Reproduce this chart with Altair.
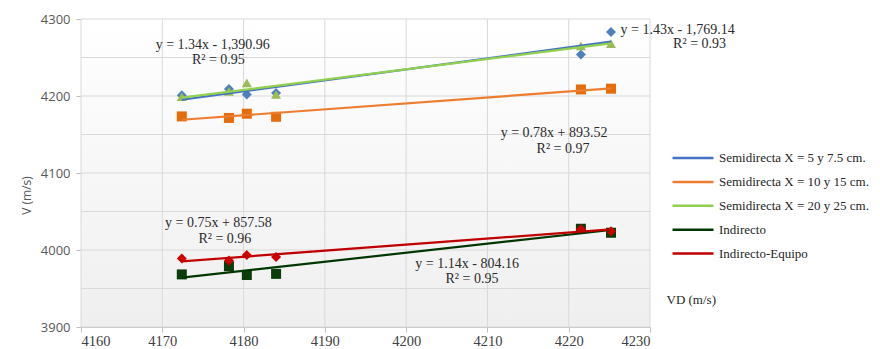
import altair as alt
import pandas as pd

# ---- data ----
vd = [4172.4, 4178.2, 4180.4, 4184.0, 4221.5, 4225.2]
semi_5_75 = [4201.0, 4209.0, 4202.0, 4204.0, 4254.0, 4283.0]
semi_10_15 = [4173.5, 4171.5, 4177.0, 4173.0, 4208.5, 4209.5]
semi_20_25 = [4199.0, 4206.0, 4217.0, 4202.0, 4265.0, 4268.0]
indirecto = [3968.3, 3979.0, 3967.5, 3969.0, 4027.6, 4022.4]
indirecto_equipo = [3989.0, 3986.5, 3993.5, 3991.0, 4027.0, 4024.5]

series_names = [
    "Semidirecta X = 5 y  7.5 cm.",
    "Semidirecta X = 10 y 15 cm.",
    "Semidirecta X = 20 y 25 cm.",
    "Indirecto",
    "Indirecto-Equipo",
]
series_values = [semi_5_75, semi_10_15, semi_20_25, indirecto, indirecto_equipo]

x_ticks = [4160, 4170, 4180, 4190, 4200, 4210, 4220, 4230]
y_ticks = [3900, 3950, 4000, 4050, 4100, 4150, 4200, 4250, 4300]

eq_texts = [
    "y = 1.34x - 1,390.96", "R² = 0.95",
    "y = 1.43x - 1,769.14", "R² = 0.93",
    "y = 0.78x + 893.52", "R² = 0.97",
    "y = 0.75x + 857.58", "R² = 0.96",
    "y = 1.14x - 804.16", "R² = 0.95",
]
eq_x = [4176.2, 4176.9, 4233.4, 4236.1, 4218.2, 4219.3, 4176.9, 4177.7, 4207.5, 4208.1]
eq_y = [4266.7, 4247.2, 4286.1, 4268.0, 4152.5, 4131.8, 4034.5, 4013.8, 3981.3, 3961.8]

# ---- styling ----
line_colors = ["#4472c4", "#ed7d31", "#92d050", "#003600", "#c00000"]
marker_colors = ["#4f81bd", "#e46c0a", "#9bbb59", "#0a3d0a", "#d00000"]
marker_shapes = ["diamond", "square", "triangle-up", "square", "diamond"]

rows = []
for name, vals in zip(series_names, series_values):
    for x, y in zip(vd, vals):
        rows.append({"series": name, "vd": x, "v": y})
df = pd.DataFrame(rows)
ann = pd.DataFrame({"x": eq_x, "y": eq_y, "text": eq_texts})

xscale = alt.Scale(domain=[4160, 4230], nice=False, zero=False)
yscale = alt.Scale(domain=[3900, 4300], nice=False, zero=False)

xaxis = alt.Axis(
    values=x_ticks, format="d", title="VD (m/s)",
    titleX=585, titleY=-28, titleAlign="left", titleBaseline="middle",
    titleFont="Liberation Serif", titleFontSize=13, titleFontWeight="normal", titleColor="#262626",
    labelFont="Liberation Serif", labelFontSize=14.5, labelColor="#404040", labelPadding=2,
    tickSize=5, tickColor="#bfbfbf", domainColor="#bfbfbf", grid=False,
)
yaxis = alt.Axis(
    values=y_ticks, format="d", title="V (m/s)",
    titleX=-55, titleY=176, titleAngle=-90, titleAlign="center", titleBaseline="middle",
    titleFont="Open Sans", titleFontSize=12, titleFontWeight="normal", titleColor="#595959",
    labelFont="Open Sans", labelFontSize=13, labelColor="#595959", labelPadding=6,
    tickSize=5, tickColor="#bfbfbf", domainColor="#bfbfbf", grid=False,
)

bg = alt.Chart(pd.DataFrame({"a": [0]})).mark_rect(
    fill=alt.Gradient(
        gradient="linear", x1=0, y1=0, x2=0, y2=1,
        stops=[alt.GradientStop(offset=0, color="#ffffff"),
               alt.GradientStop(offset=1, color="#efefef")],
    )
).encode(x=alt.value(0), x2=alt.value("width"), y=alt.value(0), y2=alt.value("height"))

xgrid = alt.Chart(pd.DataFrame({"t": x_ticks})).mark_rule(color="#d9d9d9", strokeWidth=1).encode(
    x=alt.X("t:Q", scale=xscale, axis=xaxis)
)
ygrid = alt.Chart(pd.DataFrame({"t": y_ticks})).mark_rule(color="#d9d9d9", strokeWidth=1).encode(
    y=alt.Y("t:Q", scale=yscale, axis=yaxis)
)

base = alt.Chart(df)

points = base.mark_point(filled=True, size=100, opacity=1).encode(
    x=alt.X("vd:Q", scale=xscale, axis=xaxis),
    y=alt.Y("v:Q", scale=yscale, axis=yaxis),
    color=alt.Color("series:N", scale=alt.Scale(domain=series_names, range=marker_colors), legend=None),
    shape=alt.Shape("series:N", scale=alt.Scale(domain=series_names, range=marker_shapes), legend=None),
)

lines = base.transform_regression(
    "vd", "v", groupby=["series"], method="linear"
).mark_line(strokeWidth=2.2).encode(
    x=alt.X("vd:Q", scale=xscale),
    y=alt.Y("v:Q", scale=yscale),
    color=alt.Color(
        "series:N",
        scale=alt.Scale(domain=series_names, range=line_colors),
        legend=alt.Legend(
            title=None, orient="none", legendX=590, legendY=131,
            symbolType="stroke", symbolSize=1681, symbolStrokeWidth=2.5,
            clipHeight=16,
            labelFont="Liberation Serif", labelFontSize=13, labelColor="#262626",
            labelOffset=4, rowPadding=7.9, padding=0, labelLimit=300,
        ),
    ),
)

texts = alt.Chart(ann).mark_text(
    font="Liberation Serif", fontSize=14, color="#2b2b2b", align="center", baseline="middle"
).encode(
    x=alt.X("x:Q", scale=xscale),
    y=alt.Y("y:Q", scale=yscale),
    text="text:N",
)

chart = alt.layer(bg, xgrid, ygrid, points, lines, texts).resolve_scale(
    color="independent", shape="independent"
).properties(
    width=569, height=308,
    autosize=alt.AutoSizeParams(type="none"),
    padding={"left": 73, "top": 11, "right": 222, "bottom": 20},
).configure_view(stroke="transparent")

chart.save("out.html", embed_options={"renderer": "svg", "actions": False})
